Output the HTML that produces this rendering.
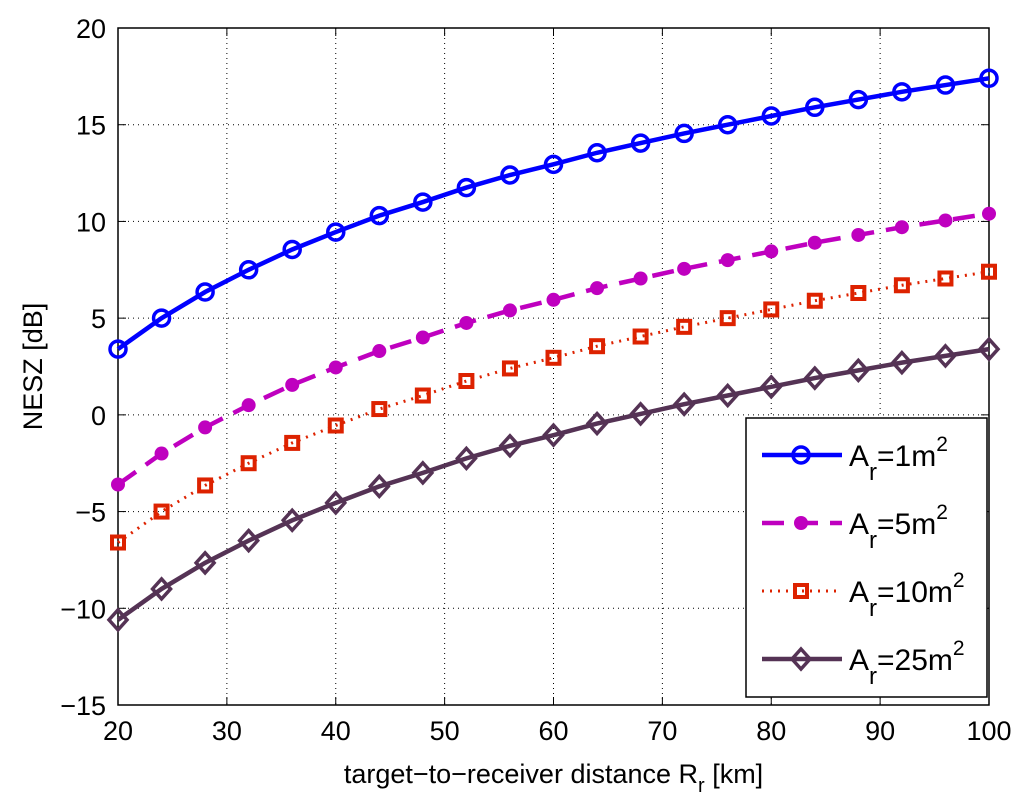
<!DOCTYPE html>
<html><head><meta charset="utf-8"><style>body{margin:0;background:#fff}svg{display:block;font-family:"Liberation Sans",sans-serif}</style></head>
<body>
<svg id="chart" width="1024" height="811"></svg>
<script>
const xValues=[20,24,28,32,36,40,44,48,52,56,60,64,68,72,76,80,84,88,92,96,100];
const s1=[3.4,5.0,6.35,7.5,8.55,9.45,10.3,11.0,11.75,12.4,12.95,13.55,14.05,14.55,15.0,15.45,15.9,16.3,16.7,17.05,17.4];
const s2=[-3.6,-2.0,-0.65,0.5,1.55,2.45,3.3,4.0,4.75,5.4,5.95,6.55,7.05,7.55,8.0,8.45,8.9,9.3,9.7,10.05,10.4];
const s3=[-6.6,-5.0,-3.65,-2.5,-1.45,-0.55,0.3,1.0,1.75,2.4,2.95,3.55,4.05,4.55,5.0,5.45,5.9,6.3,6.7,7.05,7.4];
const s4=[-10.6,-9.0,-7.65,-6.5,-5.45,-4.55,-3.7,-3.0,-2.25,-1.6,-1.05,-0.45,0.05,0.55,1.0,1.45,1.9,2.3,2.7,3.05,3.4];
const xTicks=[20,30,40,50,60,70,80,90,100];
const yTicks=[-15,-10,-5,0,5,10,15,20];
const L=118,R=989,T=28,B=705;
const sx=v=>L+(v-20)/80*(R-L), sy=v=>T+(20-v)/35*(B-T);
const svg=document.getElementById('chart');const NS='http://www.w3.org/2000/svg';
function mk(t,a,p){const e=document.createElementNS(NS,t);for(const k in a)e.setAttribute(k,a[k]);(p||svg).appendChild(e);return e;}
let e;
e=mk('rect',{x:L,y:T,width:R-L,height:B-T,fill:'#fff'});


xTicks.forEach(v=>{const x=sx(v);
 if(v>20&&v<100){e=mk('line',{x1:x,x2:x,y1:T,y2:B,stroke:'#000','stroke-width':1,'stroke-dasharray':'1,4'});}
 mk('line',{x1:x,x2:x,y1:B,y2:B-8,stroke:'#000'});mk('line',{x1:x,x2:x,y1:T,y2:T+8,stroke:'#000'});
 e=mk('text',{x:x,y:B+35,'text-anchor':'middle','font-size':27});e.textContent=v;
 });
yTicks.forEach(v=>{const y=sy(v);
 if(v>-15&&v<20){e=mk('line',{x1:L,x2:R,y1:y,y2:y,stroke:'#000','stroke-width':1,'stroke-dasharray':'1,4'});}
 mk('line',{x1:L,x2:L+8,y1:y,y2:y,stroke:'#000'});mk('line',{x1:R,x2:R-8,y1:y,y2:y,stroke:'#000'});
 e=mk('text',{x:L-12,y:y+10,'text-anchor':'end','font-size':27});e.textContent=String(v).replace('-','\u2212');
 });
e=mk('rect',{x:L,y:T,width:R-L,height:B-T,fill:'none',stroke:'#000','stroke-width':1.5});

function marker(type,x,y,c,g){
 if(type==='o')return mk('circle',{cx:x,cy:y,r:8,fill:'none',stroke:c,'stroke-width':3.5},g);
 if(type==='d')return mk('circle',{cx:x,cy:y,r:7,fill:c},g);
 if(type==='s')return mk('rect',{x:x-6,y:y-6,width:12,height:12,fill:'none',stroke:c,'stroke-width':4},g);
 return mk('polygon',{points:`${x},${y-10} ${x+9},${y} ${x},${y+10} ${x-9},${y}`,fill:'none',stroke:c,'stroke-width':3.5},g);}
const series=[[s1,'#0000ff','','o','series-1m2'],[s2,'#bf00bf','22,12','d','series-5m2'],[s3,'#dd2200','2,6','s','series-10m2'],[s4,'#553355','','v','series-25m2']];
series.forEach(([d,c,da,m,n])=>{const g=mk('g',{});
 e=mk('polyline',{points:xValues.map((x,i)=>sx(x)+','+sy(d[i])).join(' '),fill:'none',stroke:c,'stroke-width':m==='s'?3:4.5,'stroke-dasharray':da},g);
 
 xValues.forEach((x,i)=>{e=marker(m,sx(x),sy(d[i]),c,g);});});
const lg=mk('g',{});
mk('rect',{x:746,y:418,width:241,height:279,fill:'#fff',stroke:'#000','stroke-width':1.5},lg);
const labels=['1','5','10','25'];
series.forEach(([d,c,da,m,n],i)=>{const y=455+i*68;const g=mk('g',{},lg);
 mk('line',{x1:762,x2:842,y1:y,y2:y,stroke:c,'stroke-width':m==='s'?3:4.5,'stroke-dasharray':da},g);marker(m,801,y,c,g);
 const t=mk('text',{x:849,y:y+11,'font-size':30},g);
 t.innerHTML='A<tspan font-size="24" dy="14">r</tspan><tspan dy="-14">='+labels[i]+'m</tspan><tspan font-size="21" dy="-15">2</tspan>';});
e=mk('text',{x:(L+R)/2,y:783,'text-anchor':'middle','font-size':27});
e.innerHTML='target−to−receiver distance R<tspan font-size="20" dy="9">r</tspan><tspan dy="-9"> [km]</tspan>';

e=mk('text',{x:0,y:0,'text-anchor':'middle','font-size':27,transform:`translate(42,${(T+B)/2}) rotate(-90)`});e.textContent='NESZ [dB]';

</script>
</body></html>
